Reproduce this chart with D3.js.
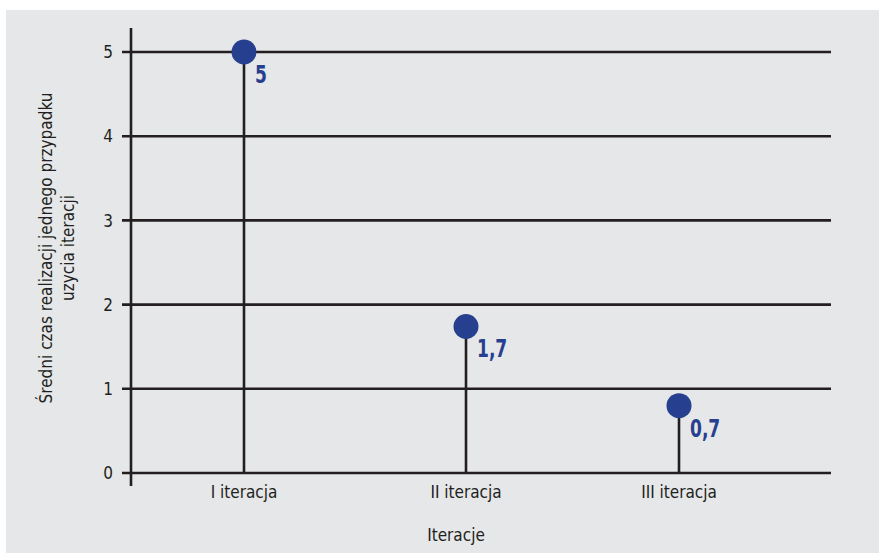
<!DOCTYPE html>
<html>
<head>
<meta charset="utf-8">
<script src="https://cdn.jsdelivr.net/npm/d3@7"></script>
<style>
  html, body { margin: 0; padding: 0; background: #fff; }
  svg { display: block; }
  text { font-family: "DejaVu Sans Condensed", sans-serif; fill: #231f20; }
</style>
</head>
<body>
<svg id="chart" width="879" height="553"></svg>
<script>
// data
const categories = ["I iteracja", "II iteracja", "III iteracja"];
const values = [5, 1.74, 0.8];          // where the dots sit in the picture
const valueLabels = ["5", "1,7", "0,7"]; // printed labels
const yTicks = [0, 1, 2, 3, 4, 5];
const xTitle = "Iteracje";
const yTitle = ["Średni czas realizacji jednego przypadku", "uzycia iteracji"];

const width = 879, height = 553;
const plotL = 131, plotR = 831, plotT = 52, plotB = 473;
const ink = "#231f20", blue = "#263f8f";

const svg = d3.select("#chart");

// gray panel
svg.append("rect")
    .attr("x", 6).attr("y", 10)
    .attr("width", width - 6).attr("height", height - 10)
    .attr("fill", "#e6e7e9");

const y = d3.scaleLinear().domain([0, 5]).range([plotB, plotT]);
// categories are not quite evenly spaced in the original
const xi = d3.scaleLinear().domain([0, 1, 2]).range([244, 466, 679]);
const x = c => xi(categories.indexOf(c));

// gridlines + ticks
const g = svg.append("g");
g.selectAll("line.grid")
  .data(yTicks)
  .join("line")
    .attr("class", "grid")
    .attr("x1", plotL - 9).attr("x2", plotR)
    .attr("y1", d => y(d)).attr("y2", d => y(d))
    .attr("stroke", ink).attr("stroke-width", 2.6);

g.selectAll("text.ytick")
  .data(yTicks)
  .join("text")
    .attr("class", "ytick")
    .attr("x", plotL - 18)
    .attr("y", d => y(d))
    .attr("dy", "0.36em")
    .attr("text-anchor", "end")
    .style("font-size", "17px")
    .text(d => d);

// y axis line
g.append("line")
    .attr("x1", plotL).attr("x2", plotL)
    .attr("y1", 28).attr("y2", 486)
    .attr("stroke", ink).attr("stroke-width", 2.6);

// stems
g.selectAll("line.stem")
  .data(values)
  .join("line")
    .attr("class", "stem")
    .attr("x1", (d, i) => x(categories[i])).attr("x2", (d, i) => x(categories[i]))
    .attr("y1", d => y(d)).attr("y2", y(0))
    .attr("stroke", ink).attr("stroke-width", 2.6);

// dots
g.selectAll("circle")
  .data(values)
  .join("circle")
    .attr("cx", (d, i) => x(categories[i]))
    .attr("cy", d => y(d))
    .attr("r", 12.5)
    .attr("fill", blue);

// value labels (narrowed bold)
g.selectAll("text.val")
  .data(values)
  .join("text")
    .attr("class", "val")
    .attr("transform", (d, i) => `translate(${x(categories[i]) + 11},${y(d) + 31}) scale(0.76,1)`)
    .style("font-size", "25px")
    .style("font-weight", "bold")
    .style("fill", blue)
    .text((d, i) => valueLabels[i]);

// x category labels
g.selectAll("text.xlab")
  .data(categories)
  .join("text")
    .attr("class", "xlab")
    .attr("x", d => x(d))
    .attr("y", 498)
    .attr("text-anchor", "middle")
    .style("font-size", "17px")
    .text(d => d);

// axis titles
svg.append("text")
    .attr("x", 456).attr("y", 541)
    .attr("text-anchor", "middle")
    .style("font-size", "17px")
    .text(xTitle);

const yt = svg.append("text")
    .attr("transform", "translate(52,248) rotate(-90)")
    .attr("text-anchor", "middle")
    .style("font-size", "17px");
yt.selectAll("tspan")
  .data(yTitle)
  .join("tspan")
    .attr("x", 0)
    .attr("dy", (d, i) => i ? 22 : 0)
    .text(d => d);
</script>
</body>
</html>
